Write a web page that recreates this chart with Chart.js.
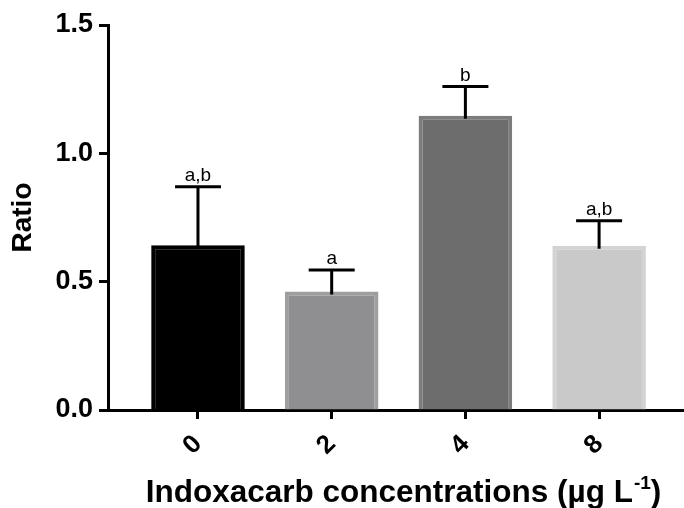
<!DOCTYPE html>
<html>
<head>
<meta charset="utf-8">
<script src="https://cdn.jsdelivr.net/npm/chart.js@4.4.1/dist/chart.umd.min.js"></script>
<style>
  body { margin: 0; background: #fff; }
  #ratioChart { display: block; }
</style>
</head>
<body>
<canvas id="ratioChart" width="684" height="508"></canvas>
<script>
// Data
const categories = ['0', '2', '4', '8'];
const ratioMeans = [0.642, 0.462, 1.146, 0.640];
const ratioErrors = [0.228, 0.083, 0.114, 0.097];
const groupLetters = ['a,b', 'a', 'b', 'a,b'];
const yTicks = [0, 0.5, 1.0, 1.5];

const barFills = ['#000000', '#8f8f92', '#6d6d6d', '#c9c9c9'];
const barBorders = ['#000000', '#9e9ea0', '#7c7c7c', '#d3d3d3'];
const FONT = '"Liberation Sans", Arial, sans-serif';

// error bars (upper only) + significance letters
const errorBarPlugin = {
    id: 'errorBars',
    afterDatasetsDraw(chart) {
        const ctx = chart.ctx;
        const meta = chart.getDatasetMeta(0);
        const yScale = chart.scales.y;
        ctx.save();
        ctx.strokeStyle = '#000';
        ctx.lineWidth = 3;
        meta.data.forEach((bar, i) => {
            const x = bar.x;
            const yMean = yScale.getPixelForValue(ratioMeans[i]);
            const yTop = yScale.getPixelForValue(ratioMeans[i] + ratioErrors[i]);
            ctx.beginPath();
            ctx.moveTo(x, yMean + 3);
            ctx.lineTo(x, yTop);
            ctx.moveTo(x - 23, yTop);
            ctx.lineTo(x + 23, yTop);
            ctx.stroke();

            ctx.fillStyle = '#000';
            ctx.font = '19px ' + FONT;
            ctx.textAlign = 'center';
            ctx.textBaseline = 'alphabetic';
            ctx.fillText(groupLetters[i], x, yTop - 6);
        });
        ctx.restore();
    },
    afterDraw(chart) {
        // x axis title with superscript -1
        const ctx = chart.ctx;
        const main = 'Indoxacarb concentrations (µg L';
        const sup = '-1';
        const tail = ')';
        ctx.save();
        ctx.fillStyle = '#000';
        ctx.textBaseline = 'alphabetic';
        ctx.font = 'bold 31.5px ' + FONT;
        const wMain = ctx.measureText(main).width;
        const wTail = ctx.measureText(tail).width;
        ctx.font = 'bold 19px ' + FONT;
        const wSup = ctx.measureText(sup).width;
        const total = wMain + wSup + wTail;
        let x = 403 - total / 2;
        const base = 502;
        ctx.textAlign = 'left';
        ctx.font = 'bold 31.5px ' + FONT;
        ctx.fillText(main, x, base);
        x += wMain + 1;
        ctx.font = 'bold 19px ' + FONT;
        ctx.fillText(sup, x, base - 13);
        x += wSup;
        ctx.font = 'bold 31.5px ' + FONT;
        ctx.fillText(tail, x, base);
        ctx.restore();
    }
};

const ctx = document.getElementById('ratioChart').getContext('2d');
const ratioChart = new Chart(ctx, {
    type: 'bar',
    data: {
        datasets: [{
            data: categories.map((c, i) => ({ x: i, y: ratioMeans[i] })),
            backgroundColor: barFills,
            borderColor: barBorders,
            borderWidth: 4,
            borderSkipped: 'bottom',
            categoryPercentage: 1.0,
            barPercentage: 0.7
        }]
    },
    options: {
        responsive: false,
        animation: false,
        devicePixelRatio: 1,
        layout: { padding: { top: 25, right: 0, left: 0, bottom: 0 } },
        plugins: {
            legend: { display: false },
            tooltip: { enabled: false }
        },
        scales: {
            x: {
                type: 'linear',
                offset: false,
                min: -0.673,
                max: 3.635,
                afterBuildTicks: scale => {
                    scale.ticks = categories.map((c, i) => ({ value: i }));
                },
                afterFit: scale => { scale.height = 98; },
                ticks: {
                    callback: v => categories[v],
                    minRotation: 45,
                    maxRotation: 45,
                    color: '#000',
                    padding: 10,
                    font: { family: FONT, size: 26, weight: 'bold' }
                },
                grid: {
                    offset: false,
                    drawOnChartArea: false,
                    tickLength: 9,
                    tickWidth: 3,
                    tickColor: '#000'
                },
                border: { color: '#000', width: 3 }
            },
            y: {
                min: 0,
                max: 1.5,
                afterBuildTicks: scale => {
                    scale.ticks = yTicks.map(v => ({ value: v }));
                },
                afterFit: scale => { scale.width = 108; },
                ticks: {
                    callback: v => Number(v).toFixed(1),
                    color: '#000',
                    padding: 6,
                    font: { family: FONT, size: 27, weight: 'bold' }
                },
                grid: {
                    drawOnChartArea: false,
                    tickLength: 9,
                    tickWidth: 3,
                    tickColor: '#000'
                },
                border: { color: '#000', width: 3 },
                title: {
                    display: true,
                    text: 'Ratio',
                    color: '#000',
                    padding: { top: 6, bottom: 0 },
                    font: { family: FONT, size: 28, weight: 'bold' }
                }
            }
        }
    },
    plugins: [errorBarPlugin]
});
</script>
</body>
</html>
